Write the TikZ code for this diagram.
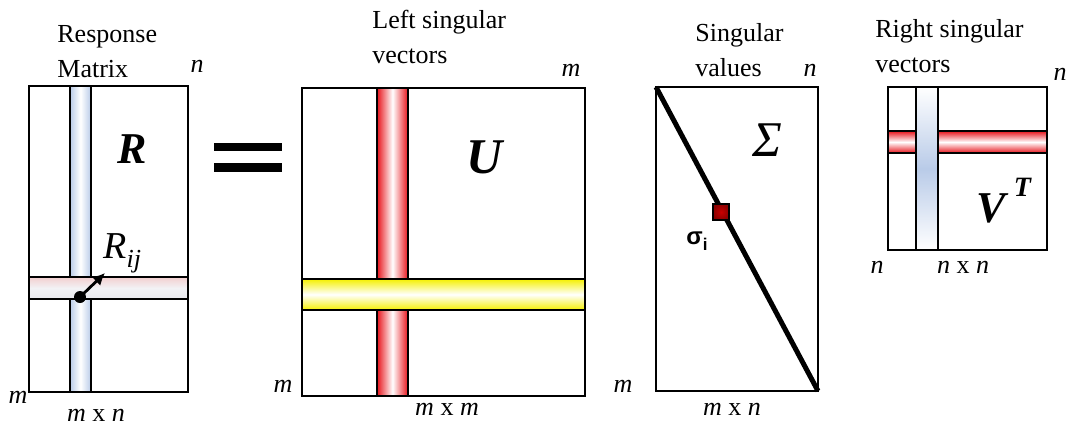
\documentclass[tikz,border=0pt]{standalone}
\usepackage{fontspec}
\setmainfont{Liberation Serif}
\newfontfamily\sansbold{Liberation Sans}
\usetikzlibrary{
    positioning,
    calc,
    arrows.meta
}
\definecolor{BandBlue}{HTML}{B9CBE8}
\definecolor{BandPink}{HTML}{F2CFCF}
\definecolor{BandGrey}{HTML}{E9E9EE}
\definecolor{BandRed}{HTML}{E8141C}
\definecolor{BandYellow}{HTML}{F5F000}
\definecolor{SigmaRed}{HTML}{C80000}

\begin{document}
\begin{tikzpicture}[
        x=0.5pt, y=-0.5pt,
        frame/.style={line width=1.1pt},
        bandline/.style={line width=0.9pt},
        lbl/.style={inner sep=0pt, font=\fontsize{13}{17.5}\selectfont},
        dimlbl/.style={inner sep=0pt, font=\fontsize{13}{13}\selectfont\itshape},
        bigletter/.style={inner sep=0pt, font=\fontsize{22}{22}\selectfont\bfseries\itshape}
    ]
    \useasboundingbox (0,0) rectangle (1067,425);

    \fill[white] (29,86) rectangle (188,392);
    \shade[left color=BandBlue, right color=BandBlue, middle color=white]
        (70,86) rectangle (91,392);
    \draw[bandline] (70,86) -- (70,392) (91,86) -- (91,392);
    \shade[top color=BandPink, bottom color=BandGrey, middle color=BandGrey!60]
        (29,277) rectangle (188,299);
    \draw[bandline] (29,277) rectangle (188,299);
    \draw[frame] (29,86) rectangle (188,392);
    \node[circle, fill, inner sep=0pt, minimum size=6pt] (rdot) at (80,297) {};
    \coordinate (rtip) at (105,273);
    \draw[line width=1.4pt, -{Latex[length=6pt, width=6pt]}] (rdot.center) -- (rtip);
    \node[anchor=base west, inner sep=0pt, font=\fontsize{19}{19}\selectfont\itshape]
        (rij) at (103,258) {R\raisebox{-4.5pt}{\fontsize{13}{13}\selectfont ij}};
    \node[bigletter] (rname) at (132,149) {R};
    \node[lbl, anchor=base west, align=left] (rtitle) at (57,77) {Response\\Matrix};
    \node[dimlbl, anchor=base] (rn) at (197,72) {n};
    \node[dimlbl, anchor=base] (rm) at (18,403) {m};
    \node[lbl, anchor=base] (rsize) at (96,421) {\textit{m} x \textit{n}};

    \fill (214,143) rectangle (282,151);
    \fill (214,163) rectangle (282,172);

    \fill[white] (302,88) rectangle (585,396);
    \shade[left color=BandRed, right color=BandRed, middle color=white]
        (377,88) rectangle (408,396);
    \draw[bandline] (377,88) -- (377,396) (408,88) -- (408,396);
    \shade[top color=BandYellow, bottom color=BandYellow, middle color=white]
        (302,279) rectangle (585,310);
    \draw[bandline] (302,279) rectangle (585,310);
    \draw[frame] (302,88) rectangle (585,396);
    \node[bigletter, font=\fontsize{25}{25}\selectfont\bfseries\itshape] (uname) at (485,157) {U};
    \node[lbl, anchor=base west, align=left] (utitle) at (372,63) {Left singular\\vectors};
    \node[dimlbl, anchor=base] (um) at (571,76) {m};
    \node[dimlbl, anchor=base] (uml) at (283,392) {m};
    \node[lbl, anchor=base] (usize) at (447,415) {\textit{m} x \textit{m}};

    \coordinate (stl) at (656,87);
    \coordinate (sbr) at (818,391);
    \draw[frame] (stl) rectangle (sbr);
    \draw[line width=2.5pt] (stl) -- (sbr);
    \node[draw, line width=0.7pt, inner sep=0pt, minimum size=8pt,
        inner color=SigmaRed, outer color=SigmaRed!70!black] (sq) at (721,212) {};
    \node[inner sep=0pt, font=\fontsize{25}{25}\selectfont\itshape] (sname) at (767,140) {Σ};
    \node[anchor=base west, inner sep=0pt, font=\sansbold\fontsize{12}{12}\selectfont\bfseries]
        (sval) at (686,244) {σ\raisebox{-3pt}{\fontsize{8.5}{8.5}\selectfont i}};
    \node[lbl, anchor=base west, align=left] (stitle) at (695,76) {Singular\\values};
    \node[dimlbl, anchor=base] (sn) at (810,76) {n};
    \node[dimlbl, anchor=base] (sm) at (623,392) {m};
    \node[lbl, anchor=base] (ssize) at (732,415) {\textit{m} x \textit{n}};

    \fill[white] (888,87) rectangle (1047,250);
    \shade[top color=BandRed, bottom color=BandRed, middle color=white]
        (888,131) rectangle (1047,153);
    \draw[bandline] (888,131) rectangle (1047,153);
    \shade[top color=white, bottom color=white, middle color=BandBlue]
        (916,87) rectangle (938,250);
    \draw[bandline] (916,87) -- (916,250) (938,87) -- (938,250);
    \draw[frame] (888,87) rectangle (1047,250);
    \node[bigletter, anchor=base west] (vname) at (976,222)
        {V\hspace{4pt}\raisebox{13pt}{\fontsize{14}{14}\selectfont T}};
    \node[lbl, anchor=base west, align=left] (vtitle) at (875,72) {Right singular\\vectors};
    \node[dimlbl, anchor=base] (vn) at (1060,80) {n};
    \node[dimlbl, anchor=base] (vnl) at (877,273) {n};
    \node[lbl, anchor=base] (vsize) at (963,273) {\textit{n} x \textit{n}};
\end{tikzpicture}
\end{document}
